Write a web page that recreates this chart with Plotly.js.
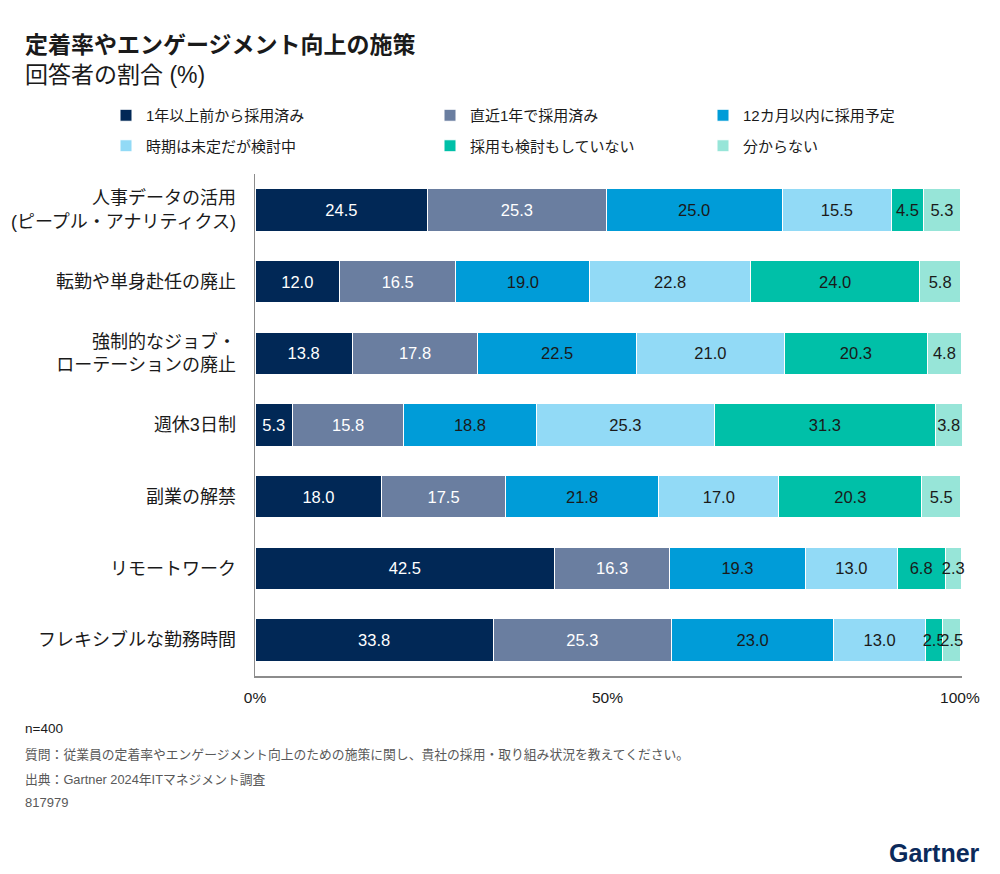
<!DOCTYPE html>
<html>
<head>
<meta charset="utf-8">
<script src="https://cdn.plot.ly/plotly-3.0.1.min.js"></script>
<style>html,body{margin:0;padding:0;background:#fff;}#chart{width:1000px;height:874px;}</style>
</head>
<body>
<div id="chart"></div>
<script>
const categories = [
  "人事データの活用<br>(ピープル・アナリティクス)",
  "転勤や単身赴任の廃止",
  "強制的なジョブ・<br>ローテーションの廃止",
  "週休3日制",
  "副業の解禁",
  "リモートワーク",
  "フレキシブルな勤務時間"
];
const seriesNames = [
  "1年以上前から採用済み",
  "直近1年で採用済み",
  "12カ月以内に採用予定",
  "時期は未定だが検討中",
  "採用も検討もしていない",
  "分からない"
];
const adoptedOver1Year = [24.5, 12.0, 13.8, 5.3, 18.0, 42.5, 33.8];
const adoptedLastYear  = [25.3, 16.5, 17.8, 15.8, 17.5, 16.3, 25.3];
const plannedIn12Months = [25.0, 19.0, 22.5, 18.8, 21.8, 19.3, 23.0];
const consideringUndecided = [15.5, 22.8, 21.0, 25.3, 17.0, 13.0, 13.0];
const notConsidering = [4.5, 24.0, 20.3, 31.3, 20.3, 6.8, 2.5];
const dontKnow = [5.3, 5.8, 4.8, 3.8, 5.5, 2.3, 2.5];
const xTickVals = [0, 50, 100];
const xTickText = ["0%", "50%", "100%"];

const seriesValues = [adoptedOver1Year, adoptedLastYear, plannedIn12Months, consideringUndecided, notConsidering, dontKnow];
const colors = ["#012856", "#6A7EA0", "#009CD8", "#92DAF6", "#00C0A8", "#97E5D8"];
const textColors = ["#ffffff", "#ffffff", "#1a1a1a", "#1a1a1a", "#1a1a1a", "#1a1a1a"];
const FONT = "Liberation Sans, Arial, 'Noto Sans CJK JP', sans-serif";
// legend laid out as three columns of two entries (one legend per column)
const legendIds = ["legend", "legend2", "legend3", "legend", "legend2", "legend3"];

// axis max covers the largest rounded row total so every segment and label is drawn
const rowTotals = categories.map((_, j) => seriesValues.reduce((s, arr) => s + arr[j], 0));
const xMax = Math.max(100, ...rowTotals);

const traces = seriesValues.map((vals, i) => ({
  type: "bar",
  orientation: "h",
  name: seriesNames[i],
  legend: legendIds[i],
  legendgroup: "g" + i,
  y: categories,
  x: vals,
  text: vals.map(v => v.toFixed(1)),
  textposition: "inside",
  insidetextanchor: "middle",
  textangle: 0,
  constraintext: "none",
  cliponaxis: false,
  textfont: {family: FONT, size: 16.5, color: textColors[i]},
  marker: {color: colors[i], line: {color: "#ffffff", width: 1}},
  hoverinfo: "skip"
}));

const W = 1000, H = 874;
const mL = 255, mT = 174, mB = 198;
const plotW = 705 * xMax / 100;
const mR = W - mL - plotW;
const plotH = H - mT - mB;
// convert page pixel positions to paper coordinates for the note annotations
const px = v => (v - mL) / plotW;
const py = v => (H - mB - v) / plotH;

const legendBase = {
  orientation: "v",
  xref: "container", yref: "container",
  xanchor: "left",
  y: 1 - 99 / H, yanchor: "top",
  traceorder: "grouped",
  tracegroupgap: 8,
  font: {family: FONT, size: 15, color: "#1a1a1a"},
  itemwidth: 30,
  bgcolor: "rgba(0,0,0,0)"
};

const layout = {
  width: W,
  height: H,
  barmode: "stack",
  bargap: 0.41,
  paper_bgcolor: "#ffffff",
  plot_bgcolor: "#ffffff",
  font: {family: FONT, color: "#1a1a1a"},
  margin: {l: mL, r: mR, t: mT, b: mB, autoexpand: false},
  showlegend: true,
  legend: Object.assign({}, legendBase, {x: 106 / W}),
  legend2: Object.assign({}, legendBase, {x: 430 / W}),
  legend3: Object.assign({}, legendBase, {x: 703 / W}),
  title: {
    text: "<b>定着率やエンゲージメント向上の施策</b><br>回答者の割合 (%)",
    x: 0.025, xanchor: "left", xref: "container",
    y: 0.939, yanchor: "top", yref: "container",
    font: {family: FONT, size: 23, color: "#1a1a1a"}
  },
  xaxis: {
    range: [0, xMax],
    tickvals: xTickVals,
    ticktext: xTickText,
    showgrid: false,
    zeroline: false,
    showline: true,
    linecolor: "#8c8c8c",
    linewidth: 1.5,
    ticks: "",
    ticklabelstandoff: 7,
    tickfont: {family: FONT, size: 15.5, color: "#1a1a1a"},
    fixedrange: true
  },
  yaxis: {
    autorange: "reversed",
    showgrid: false,
    zeroline: false,
    showline: true,
    linecolor: "#8c8c8c",
    linewidth: 1.5,
    ticks: "",
    ticklabelstandoff: 14,
    tickfont: {family: FONT, size: 18, color: "#1a1a1a"},
    fixedrange: true
  },
  annotations: [
    {text: "n=400", xref: "paper", yref: "paper", x: px(23), y: py(728), xanchor: "left", yanchor: "middle", showarrow: false, font: {family: FONT, size: 13.5, color: "#1a1a1a"}},
    {text: "質問：従業員の定着率やエンゲージメント向上のための施策に関し、貴社の採用・取り組み状況を教えてください。", xref: "paper", yref: "paper", x: px(23), y: py(754), xanchor: "left", yanchor: "middle", showarrow: false, font: {family: FONT, size: 12.8, color: "#595959"}},
    {text: "出典：Gartner 2024年ITマネジメント調査", xref: "paper", yref: "paper", x: px(23), y: py(779), xanchor: "left", yanchor: "middle", showarrow: false, font: {family: FONT, size: 12.8, color: "#595959"}},
    {text: "817979", xref: "paper", yref: "paper", x: px(23), y: py(802), xanchor: "left", yanchor: "middle", showarrow: false, font: {family: FONT, size: 13, color: "#595959"}},
    {text: "<b>Gartner</b>", xref: "paper", yref: "paper", x: px(982), y: py(853), xanchor: "right", yanchor: "middle", showarrow: false, font: {family: FONT, size: 25, color: "#0b2a5b"}}
  ]
};

Plotly.newPlot("chart", traces, layout, {displayModeBar: false, staticPlot: true});
</script>
</body>
</html>
